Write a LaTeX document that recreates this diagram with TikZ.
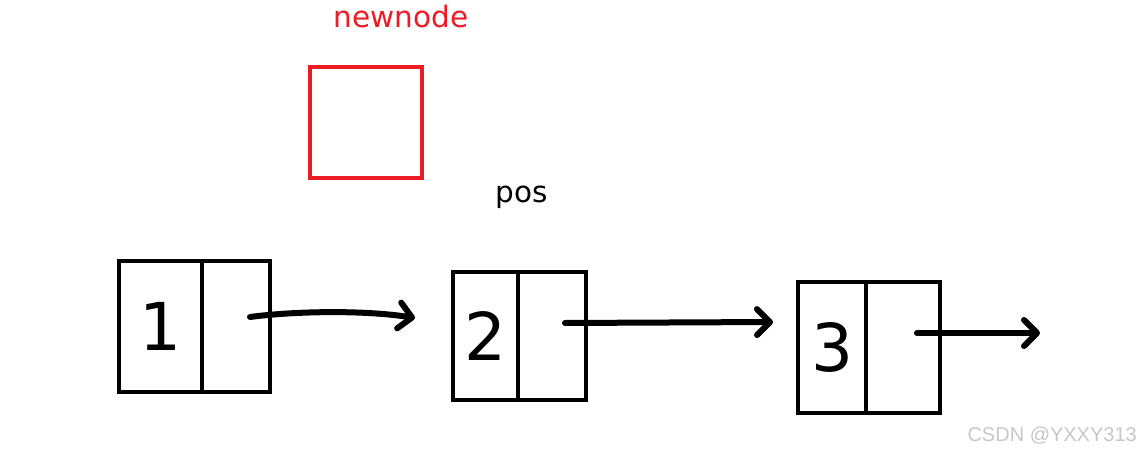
\documentclass[tikz,border=0pt]{standalone}
\usepackage{fontspec}
\setmainfont{DejaVu Sans}
\newfontfamily\markfont{Liberation Sans}
\usepackage{tikz}
\usetikzlibrary{positioning, arrows.meta}
\definecolor{paintred}{RGB}{237,28,36}
\tikzset{
    cell/.style={draw=black, line width=4.5pt, inner sep=0pt, outer sep=0pt},
    digit/.style={font=\fontsize{66}{70}\selectfont},
    link/.style={line width=6pt, line cap=round,
        -{Straight Barb[length=13pt, width=26pt, round]}},
    label/.style={font=\fontsize{29.5}{32}\selectfont, inner sep=0pt}
}
\begin{document}
\begin{tikzpicture}[x=1pt, y=-1pt]
    \useasboundingbox (0,0) rectangle (1140,454);

    % new node
    \node[label, text=paintred, anchor=base] (newlbl) at (401,28) {newnode};
    \node[draw=paintred, line width=4pt, minimum width=112, minimum height=111,
        anchor=north west, inner sep=0pt] (newnode) at (308,65) {};
    \node[label, anchor=base] (poslbl) at (522,203) {pos};

    % list nodes
    \foreach \i/\x/\y/\wdata/\wnext/\h in {
        1/119/261/83/68/131,
        2/453/272/65/68/128,
        3/798/282/68/74/131}
    {
        \node[cell, digit, anchor=north west, minimum width=\wdata, minimum height=\h]
            (d\i) at (\x,\y) {\i};
        \node[cell, minimum width=\wnext, minimum height=\h, right=0pt of d\i] (n\i) {};
    }

    % links
    \coordinate (tail) at (1040,333);
    \draw[link] ([shift={(14,-9.5)}]n1.center)
        .. controls +(45,-6) and +(-50,-8) .. ([shift={(-38,-18)}]d2.west);
    \draw[link] ([shift={(13,-13)}]n2.center) -- ([shift={(-25,-25.5)}]d3.west);
    \draw[link] ([shift={(14,-14.5)}]n3.center) -- (tail);

    % watermark
    \node[font=\fontsize{20}{22}\selectfont\markfont, text=black!22, anchor=base east,
        inner sep=0pt] (mark) at (1137,441) {CSDN @YXXY313};
\end{tikzpicture}
\end{document}
